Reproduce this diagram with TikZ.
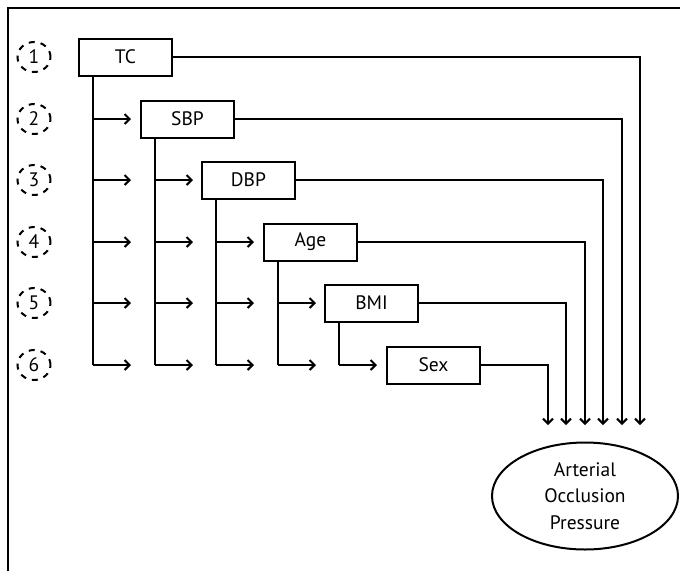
\documentclass[tikz,border=0pt]{standalone}
\usepackage{fontspec}
\setmainfont{PT Sans}
\usetikzlibrary{arrows.meta,shapes.geometric}

\begin{document}
\begin{tikzpicture}[x=1pt,y=-1pt,
  box/.style={draw, line width=2pt, minimum width=93pt, minimum height=37pt,
    inner sep=0pt, font=\fontsize{19.5}{22}\selectfont},
  stepnum/.style={draw, ellipse, dash pattern=on 6pt off 6pt, line width=2pt,
    minimum width=33pt, minimum height=30pt, inner sep=0pt,
    font=\fontsize{19.5}{22}\selectfont},
  link/.style={line width=2pt},
  arr/.style={line width=2pt, -{Straight Barb[length=5pt,width=10pt]}}]
\useasboundingbox (0,0) rectangle (680,571);

% Frame (cut off at right and bottom)
\draw[link] (8,571) -- (8,8) -- (680,8);

% Rows and step numbers
\foreach \y [count=\i] in {57,119,180,242,303,365}{
  \coordinate (r\i) at (34,\y);
  \node[stepnum] (n\i) at (r\i) {\i};
}

% Predictor boxes
\foreach \lbl/\x [count=\i] in {TC/125.5,SBP/187.5,DBP/248.5,Age/310.5,BMI/371.5,Sex/433.5}
  \node[box] (b\i) at (\x,0 |- r\i) {\lbl};

% Outcome
\node[draw, ellipse, line width=2pt, minimum width=186pt, minimum height=107pt,
  align=center, font=\fontsize{19.5}{26.5}\selectfont] (aop) at (585,496)
  {Arterial\\Occlusion\\Pressure};

% Branch lines below each box
\foreach \x [count=\c] in {93,155,216,278,339}{
  \coordinate (v\c) at (\x,365);
  \draw[link] (b\c.south -| v\c) -- (v\c);
}

% Arrows to the following steps
\foreach \c in {1,...,5}{
  \pgfmathtruncatemacro{\cc}{\c+1}
  \foreach \r in {\cc,...,6}{
    \coordinate (s\c\r) at (v\c |- r\r);
    \coordinate (e\c\r) at ([xshift=38pt]s\c\r);
    \draw[arr] (s\c\r) -- (e\c\r);
  }
}

% Lines down to the outcome
\foreach \x [count=\i] in {640,622,603,585,566,548}{
  \coordinate (d\i) at (\x,425);
  \draw[arr] (b\i.east) -| (d\i);
}
\end{tikzpicture}
\end{document}
